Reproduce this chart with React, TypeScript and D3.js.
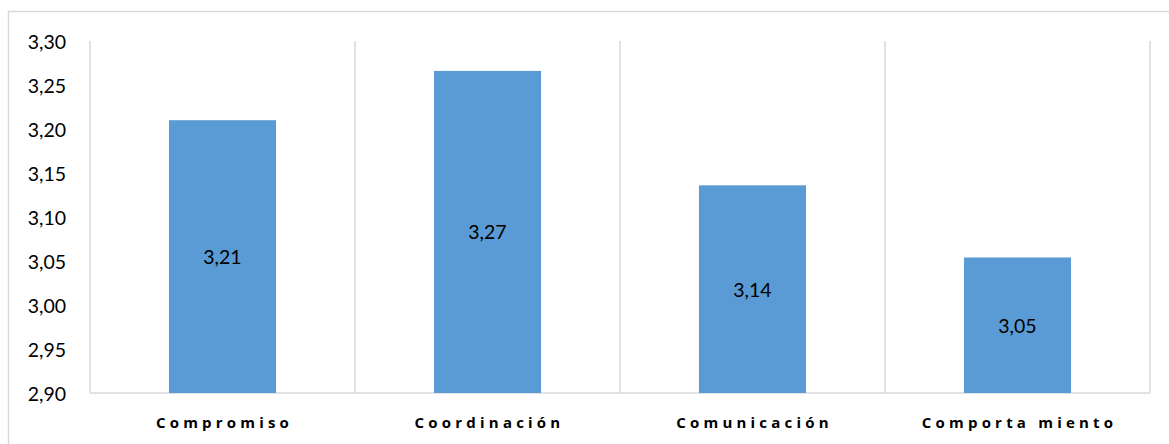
import React from "react";
import * as d3 from "d3";

// Chart data
const categories: string[] = ["Compromiso", "Coordinación", "Comunicación", "Comporta miento"];
const values: number[] = [3.21, 3.266, 3.136, 3.054];
const yTicks: number[] = [2.9, 2.95, 3.0, 3.05, 3.1, 3.15, 3.2, 3.25, 3.3];

const W = 1169;
const H = 444;
const margin = { left: 90, right: 19, top: 41, bottom: 51 };

const fmt = (v: number) => v.toFixed(2).replace(".", ",");

export default function App() {
  const x = d3
    .scaleBand<string>()
    .domain(categories)
    .range([margin.left, W - margin.right])
    .paddingInner(0.596)
    .paddingOuter(0.298);
  const y = d3
    .scaleLinear()
    .domain([2.9, 3.3])
    .range([H - margin.bottom, margin.top]);

  // Category boundaries for vertical gridlines
  const bounds = d3.range(categories.length + 1).map((i) => margin.left + i * ((W - margin.left - margin.right) / categories.length));

  const grid = "#d9d9d9";
  const font = "Lato, 'Open Sans', sans-serif";

  return (
    <div style={{ position: "fixed", left: 0, top: 0 }}>
      <svg width={W} height={H} style={{ display: "block", background: "#fff" }}>
        <rect x={8.5} y={11.5} width={W + 10} height={H + 10} fill="#fff" stroke={grid} strokeWidth={1.5} />
        {bounds.map((bx, i) => (
          <line key={i} x1={bx} x2={bx} y1={y(3.3)} y2={y(2.9)} stroke={grid} strokeWidth={1.5} />
        ))}
        <line x1={margin.left} x2={W - margin.right} y1={y(2.9)} y2={y(2.9)} stroke={grid} strokeWidth={1.5} />
        {yTicks.map((t) => (
          <text
            key={t}
            x={66}
            y={y(t)}
            textAnchor="end"
            dominantBaseline="central"
            fontFamily={font}
            fontSize={19.5}
            fill="#000"
          >
            {fmt(t)}
          </text>
        ))}
        {categories.map((c, i) => {
          const bx = x(c) as number;
          const top = y(values[i]);
          const bottom = y(2.9);
          return (
            <g key={c}>
              <rect x={bx} y={top} width={x.bandwidth()} height={bottom - top} fill="#5b9bd5" />
              <text
                x={bx + x.bandwidth() / 2}
                y={(top + bottom) / 2}
                textAnchor="middle"
                dominantBaseline="central"
                fontFamily={font}
                fontSize={19.5}
                fill="#000"
              >
                {fmt(values[i])}
              </text>
              <text
                x={bx + x.bandwidth() / 2 + 2}
                y={422}
                textAnchor="middle"
                dominantBaseline="central"
                fontFamily="'Open Sans', sans-serif"
                fontWeight="bold"
                fontSize={15}
                letterSpacing={4.2}
                fill="#000"
              >
                {c}
              </text>
            </g>
          );
        })}
      </svg>
    </div>
  );
}
